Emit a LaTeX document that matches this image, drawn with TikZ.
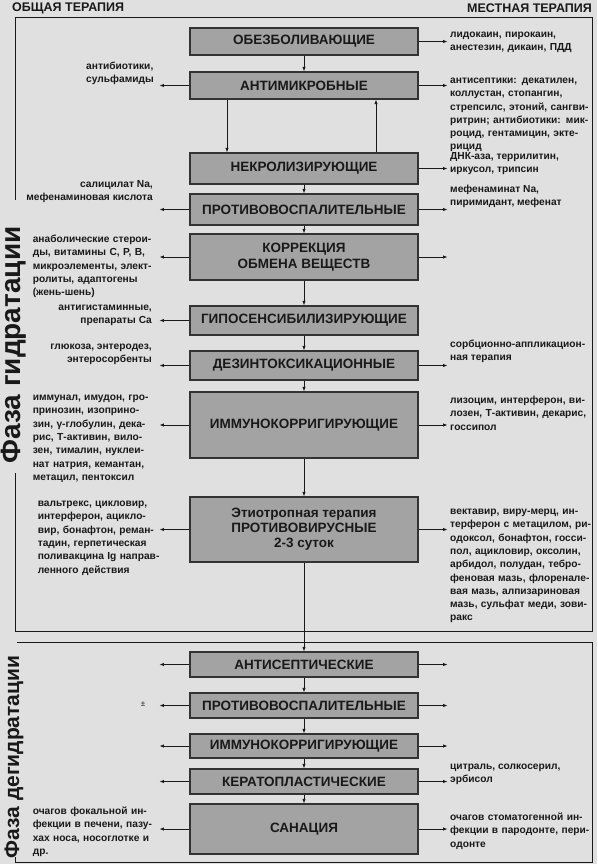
\documentclass[tikz,border=0pt]{standalone}
\usepackage{fontspec}
\setmainfont{Liberation Sans}
\usetikzlibrary{arrows.meta}
\definecolor{paper}{gray}{0.88}
\definecolor{boxfill}{gray}{0.64}
\definecolor{boxline}{gray}{0.2}
\definecolor{ink}{gray}{0.1}
% one justified line of a note block
\newcommand\fl[1]{\makebox[\nw][s]{#1}}

\begin{document}
\begin{tikzpicture}[x=1pt, y=-1pt,
  stage/.style={draw=boxline, fill=boxfill, line width=1.2pt, minimum width=228pt,
    inner sep=2pt, align=center, text=ink, font=\fontsize{13.5}{16.5}\selectfont\bfseries},
  arr/.style={-{Latex[length=4.5pt,width=3.4pt]}, line width=0.8pt, draw=ink},
  note/.style={inner sep=0pt, text=ink, font=\fontsize{10.2}{13.3}\selectfont\bfseries},
  block/.style={note, align=left, text width=#1, execute at begin node={\def\nw{#1}}},
  frame/.style={line width=0.9pt, draw=ink},
  phase/.style={rotate=90, inner sep=0pt, text=ink, font=\bfseries}]
\fill[paper] (0,0) rectangle (597,864);
\useasboundingbox (0,0) rectangle (597,864);

% headers
\node[note, anchor=west, font=\fontsize{12.5}{14}\selectfont\bfseries] (general) at (12,8) {ОБЩАЯ ТЕРАПИЯ};
\node[note, anchor=east, font=\fontsize{12.5}{14}\selectfont\bfseries] (local) at (592,8) {МЕСТНАЯ ТЕРАПИЯ};

% phase frames
\node[phase, font=\fontsize{28}{28}\selectfont\bfseries] (hydr) at (14,345) {Фаза гидратации};
\node[phase, font=\fontsize{21}{21}\selectfont\bfseries] (dehydr) at (14,757) {Фаза дегидратации};
\draw[frame] (15,200) -- (15,17) -- (592,17) -- (592,631) -- (15,631) -- (15,473);
\draw[frame] (15,857) -- (15,862) -- (592,862) -- (592,642) -- (17,642);

% stages, hydration phase
\node[stage, minimum height=27pt] (obezb) at (304,41.5) {ОБЕЗБОЛИВАЮЩИЕ};
\node[stage, minimum height=27pt] (antimikr) at (304,85.5) {АНТИМИКРОБНЫЕ};
\node[stage, minimum height=31pt] (nekroliz) at (304,168.5) {НЕКРОЛИЗИРУЮЩИЕ};
\node[stage, minimum height=31pt] (protiv) at (304,209.5) {ПРОТИВОВОСПАЛИТЕЛЬНЫЕ};
\node[stage, minimum height=46pt] (korr) at (304,257) {КОРРЕКЦИЯ\\ОБМЕНА ВЕЩЕСТВ};
\node[stage, minimum height=29pt] (giposens) at (304,320.5) {ГИПОСЕНСИБИЛИЗИРУЮЩИЕ};
\node[stage, minimum height=29pt] (dezint) at (304,365.5) {ДЕЗИНТОКСИКАЦИОННЫЕ};
\node[stage, minimum height=66pt] (immun) at (304,425) {ИММУНОКОРРИГИРУЮЩИЕ};
\node[stage, minimum height=65pt, font=\fontsize{13.5}{15}\selectfont\bfseries] (etiotrop) at (304,529.5)
  {Этиотропная терапия\\ПРОТИВОВИРУСНЫЕ\\2-3 суток};

% stages, dehydration phase
\node[stage, minimum height=25pt] (antisept) at (304,664.5) {АНТИСЕПТИЧЕСКИЕ};
\node[stage, minimum height=25pt] (protivd) at (304,705.5) {ПРОТИВОВОСПАЛИТЕЛЬНЫЕ};
\node[stage, minimum height=24pt] (immund) at (304,746) {ИММУНОКОРРИГИРУЮЩИЕ};
\node[stage, minimum height=25pt] (kerato) at (304,781.5) {КЕРАТОПЛАСТИЧЕСКИЕ};
\node[stage, minimum height=50pt] (sanac) at (304,829) {САНАЦИЯ};

% vertical flow
\draw[arr] (obezb) -- (antimikr);
\draw[arr] ([xshift=-77pt]antimikr.south) -- ([xshift=-77pt]nekroliz.north);
\draw[arr] ([xshift=72pt]nekroliz.north) -- ([xshift=72pt]antimikr.south);
\foreach \a/\b in {nekroliz/protiv, protiv/korr, korr/giposens, giposens/dezint,
  dezint/immun, immun/etiotrop, etiotrop/antisept, antisept/protivd,
  protivd/immund, immund/kerato, kerato/sanac}
  \draw[arr] (\a) -- (\b);

% side arrows
\foreach \b in {antimikr, protiv, korr, giposens, dezint, immun, etiotrop,
  antisept, protivd, immund, kerato, sanac} {
  \coordinate (\b-l) at ([xshift=-30pt]\b.west);
  \draw[arr] (\b.west) -- (\b-l);
}
\foreach \b in {obezb, antimikr, nekroliz, protiv, korr, dezint, immun, etiotrop,
  antisept, protivd, immund, kerato, sanac} {
  \coordinate (\b-r) at ([xshift=29pt]\b.east);
  \draw[arr] (\b.east) -- (\b-r);
}

% general therapy (left)
\node[note, anchor=base west, align=left] (antimikr-txt) at (86,82.5) {антибиотики,\\сульфамиды};
\node[note, anchor=base east, align=right] (protiv-txt) at (153,200.5) {салицилат Na,\\мефенаминовая кислота};
\node[block=120pt, anchor=base east] (korr-txt) at (153,242.5)
  {\fl{анаболические стерои-}\\ды, витамины С, Р, В,\\\fl{микроэлементы, элект-}\\\fl{ролиты, адаптогены}\\(жень-шень)};
\node[note, anchor=base east, align=right] (giposens-txt) at (152,323.5) {антигистаминные,\\препараты Ca};
\node[note, anchor=base east, align=right] (dezint-txt) at (152,362.5) {глюкоза, энтеродез,\\энтеросорбенты};
\node[block=120pt, anchor=base east] (immun-txt) at (153,400.5)
  {\fl{иммунал, имудон, гро-}\\\fl{принозин, изоприно-}\\\fl{зин, γ-глобулин, дека-}\\\fl{рис, Т-активин, вило-}\\
   \fl{зен, тималин, нуклеи-}\\\fl{нат натрия, кемантан,}\\метацил, пентоксил};
\node[block=117pt, anchor=base east] (etiotrop-txt) at (155,506.5)
  {\fl{вальтрекс, цикловир,}\\\fl{интерферон, ацикло-}\\\fl{вир, бонафтон, реман-}\\\fl{тадин, герпетическая}\\
   \fl{поливакцина Ig направ-}\\ленного действия};
\node[note, anchor=base, font=\fontsize{8}{9}\selectfont] (protivd-txt) at (143,706) {±};
\node[block=122pt, anchor=base east] (sanac-txt) at (155,814.5)
  {\fl{очагов фокальной ин-}\\\fl{фекции в печени, пазу-}\\\fl{хах носа, носоглотке и}\\др.};

% local therapy (right)
\node[block=124pt, anchor=base west] (obezb-txt) at (450,37.5)
  {\fl{лидокаин, пирокаин,}\\\fl{анестезин, дикаин, ПДД}};
\node[block=140pt, anchor=base west] (antimikr-rtxt) at (450,83.5)
  {\fl{антисептики: декатилен,}\\\fl{коллустан, стопангин,}\\\fl{стрепсилс, этоний, сангви-}\\
   \fl{ритрин; антибиотики: мик-}\\\fl{роцид, гентамицин, экте-}\\рицид};
\node[note, anchor=base west, align=left] (nekroliz-txt) at (450,172.5) {ДНК-аза, террилитин,\\иркусол, трипсин};
\node[note, anchor=base west, align=left] (protiv-rtxt) at (450,205.5) {мефенаминат Na,\\пиримидант, мефенат};
\node[note, anchor=base west, align=left] (dezint-rtxt) at (450,360.5) {сорбционно-аппликацион-\\ная терапия};
\node[block=134pt, anchor=base west] (immun-rtxt) at (450,403.5)
  {\fl{лизоцим, интерферон, ви-}\\\fl{лозен, Т-активин, декарис,}\\госсипол};
\node[block=139pt, anchor=base west] (etiotrop-rtxt) at (450,514.5)
  {\fl{вектавир, виру-мерц, ин-}\\\fl{терферон с метацилом, ри-}\\\fl{одоксол, бонафтон, госси-}\\
   \fl{пол, ацикловир, оксолин,}\\\fl{арбидол, полудан, тебро-}\\\fl{феновая мазь, флоренале-}\\
   \fl{вая мазь, алпизариновая}\\\fl{мазь, сульфат меди, зови-}\\ракс};
\node[note, anchor=base west, align=left] (kerato-txt) at (450,782.5) {цитраль, солкосерил,\\эрбисол};
\node[block=130pt, anchor=base west] (sanac-rtxt) at (450,820.5)
  {\fl{очагов стоматогенной ин-}\\\fl{фекции в пародонте, пери-}\\одонте};
\end{tikzpicture}
\end{document}
